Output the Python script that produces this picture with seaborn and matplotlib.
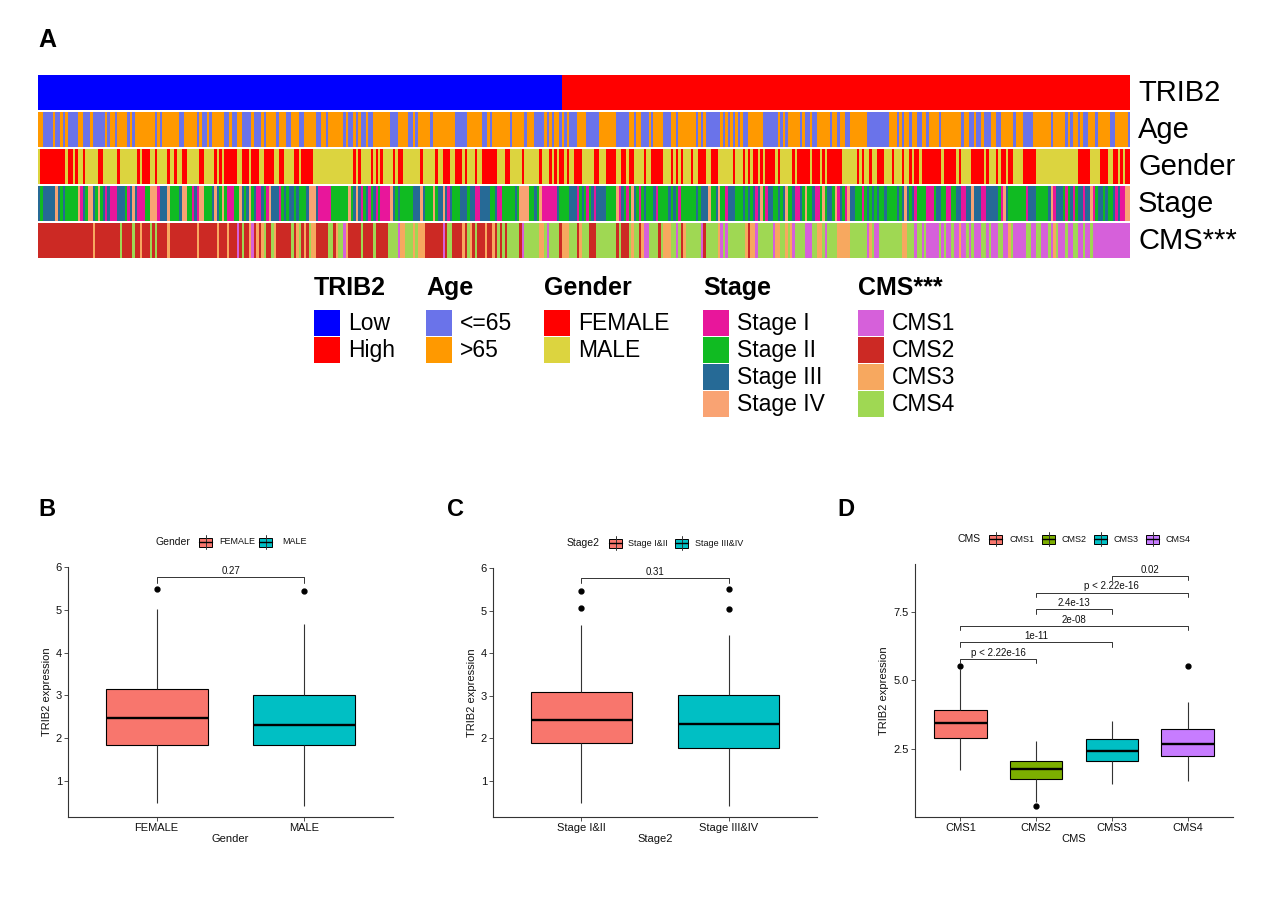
import numpy as np
import pandas as pd
import matplotlib
matplotlib.use("Agg")
import matplotlib.pyplot as plt
import seaborn as sns
from matplotlib.colors import ListedColormap
from matplotlib.patches import Rectangle
from matplotlib.lines import Line2D

# ---------------- data ----------------
N_SAMPLES = 440
TRIB2_RUNS = "L211 H229"
AGE_RUNS = " ".join([
    "O2 B4 O1 B2 O1 B1 O1 B4 O2 B3 O1 B5 O1 B1 O2 B1 O4 B1 O1 B1 O8 B1 O1 B1 O7 B2 O5 B1 O1 B2 O1 B1 O5 B2 O1 B2 O2 B4 O1 B3",
    "O1 B1 O4 B1 O3 B2 O3 B2 O5 B2 O2 B1 O6 B1 O1 B2 O1 B1 O1 B2 O1 B2 O7 B3 O4 B2 O1 B1 O5 B1 O9 B5 O6 B1",
    "B1 O1 B1 O7 B1 O5 B1 O3 B4 O1 B1 O1 B1 O2 B1 O1 B1 O1 B3 O4 B5 O7 B5 O2 B1 O2 B3 O1 B1 O4 B3 O2 B1 O7 B1 O1 B1 O1 B2",
    "B4 O1 B1 O1 B1 O1 B1 O1 B1 O1 B2 O6 B6 O1 B1 O1 B1 O5 B1 O1 B2 O1 B2 O5 B1 O2 B1 O2 B2 O7 B9 O3 B1 O1 B1 O2 B1 O2 B2 O2 B1 O3",
    "O1 B1 O8 B1 O2 B2 O1 B2 O1 B3 O2 B2 O5 B1 O3 B4 O7 B1 O5 B1 O1 B1 O2 B1 O1 B2 O3 B1 O5 B2 O5 B1",
])
GENDER_RUNS = " ".join([
    "M1 F10 M1 F2 M1 F1 M2 F1 M5 F2 M6 F1 M7 F1 M1 F3 M2 F1 M4 F1 M2 F1 M2 F2 M5 F2 M4 F1 M1 F1 M1 F5 M2 F3 M1 F3 M1",
    "M1 F4 M2 F2 M4 F2 M1 F5 M16 F1 M1 F1 M4 F1 M1 F1 M1 F1 M4 F1 M1 F2 M7 F1 M5 F1 M2 F3 M2 F3 M1 F1 M3 F1 M2 F1",
    "F5 M3 F2 M5 F1 M6 F1 M3 F1 M1 F1 M1 F2 M1 F1 M2 F3 M5 F2 M3 F4 M2 F2 M1 F2 M4 F1 M2 F5 M3 F1 M1 F1 M1 F1 M3 F1 M2 F3 M2",
    "F3 M6 F1 M3 F1 M1 F1 M1 F2 M1 F1 M1 F4 M1 F1 M5 F1 M1 F5 M1 F3 M1 F1 M1 F6 M6 F1 M1 F1 M2 F1 M2 F3 M3 F1 M3 F1 M2 F1 M1 F2 M1 F6",
    "F2 M1 F5 M1 F1 M4 F5 M1 F1 M3 F1 M1 F2 M1 F2 M4 F5 M17 F5 M4 F3 M2 F2 M1 F1 M1 F2",
])
STAGE_RUNS = " ".join([
    "T1 G1 T5 S1 T1 G1 T1 G5 S1 P1 T1 G1 S2 T1 G1 S1 G1 T1 P1 T1 P3 T3 G1 P1 T1 S1 T1 P3 G2 S3 P1 T3 S1 G4 T1 S2 G2 P1 T1 P1 S2 G3 T1 S1 T1 G1 S1 G1 P3 G2 S1 T1 G1 T1 S1 G1 T1 P2",
    "T1 G1 P1 S1 T3 P1 G1 T1 G1 T2 G1 T1 G3 T1 S3 T1 P5 G7 S1 G1 T1 S1 T1 P1 G1 T1 P1 G1 T1 P1 G1 P4 S1 T1 G1 T1 G5 T3 S1 T1 G3 S1 G1 T2 S1 T1 P1 T1 G3 T3 G1 T2 P2 T2",
    "T2 G2 T1 P2 G5 T1 G1 S4 G2 T1 G1 S1 P6 T1 G4 T3 P1 G1 T1 G1 P1 G1 T1 P1 T4 G4 S1 P1 T1 G1 P1 G1 S1 T1 G1 P1 G1 T1 G3 T1 P1 G4 T1 G1 T1 G1 P1 G6 T1 G1 T3",
    "S1 G2 T1 S1 G2 P1 T3 G3 T1 G1 T1 G1 T1 P1 T1 S1 G1 P1 T2 G2 T1 G1 T1 S1 G2 T1 P2 T1 G1 S1 G2 T1 P2 G1 S1 G1 T2 G1 S1 P1 T1 G1 P1 S1 T2 G3 P1 G1 T1 G1 T1 G1 T1 G2 T1 G4 T1 G1 T1 S1 T1 G1 T1 P1 G4 P3",
    "G1 T2 G2 P2 G2 T2 P2 T2 S1 T3 P2 T5 G1 P1 S1 T1 G7 P1 T3 G5 T1 S1 P1 T3 G1 P1 G1 T1 P1 G1 T2 P1 T2 S1 P1 G1 T2 G1 T1 G2 T1 P1 T1 P2 S1",
])
CMS_RUNS = " ".join([
    "B22 C1 B10 D1 B4 D1 B2 C1 B3 D1 B1 D1 B4 C1 B11 C1 B7 C1 B3 C1 B3 A1 B1 D1 B2 C1 A1 B1 C1 B1",
    "C1 D1 B2 D1 C1 B6 D1 B1 C1 D1 B1 C1 B1 D1 C2 B5 D2 B1 C1 D2 A1 C1 B5 D1 B4 D1 B5 D4 A1 C2 D3 C1 D1 C3 B7 A1 B1 D2 B4 C1 B1 D1 C1 B1 D1 B3",
    "C1 B2 C1 B1 D1 B1 D1 B1 D5 B1 A1 D6 C2 D1 A1 D4 B1 C3 D3 B1 C1 D3 B3 D8 B1 D1 B3 D1 C1 D2 B1 C1 A2 D4 B1 D1 C3 D2 A1 D1 B1 C1 D6 A1 B1 D2",
    "D3 C1 A1 D1 A1 D7 C1 B1 C2 A1 D6 A1 C2 D2 C1 D1 C1 A1 D4 A3 D2 C2 D1 A1 D4 C5 D7 A1 C1 D1 A2 D9 C2 D3 A1 D2 A1 D1 A4",
    "A1 D1 A1 D1 A2 D1 A2 C1 A2 D1 A1 D1 A3 D2 A1 D1 A3 D2 A2 C1 D1 A5 D2 A2 D2 A3 D1 A1 C1 D1 A3 D1 A2 D2 A2 D1 A2 D1 A15",
])

TRIB2_LEVELS = ["Low", "High"]
AGE_LEVELS = ["<=65", ">65"]
GENDER_LEVELS = ["FEMALE", "MALE"]
STAGE_LEVELS = ["Stage I", "Stage II", "Stage III", "Stage IV"]
CMS_LEVELS = ["CMS1", "CMS2", "CMS3", "CMS4"]

TRIB2_COLORS = ["#0000FF", "#FF0000"]
AGE_COLORS = ["#6A73EA", "#FF9900"]
GENDER_COLORS = ["#FF0000", "#DCD43F"]
STAGE_COLORS = ["#E8169B", "#10BB22", "#266A96", "#F9A373"]
CMS_COLORS = ["#D660DA", "#CC2924", "#F7A85F", "#9FD853"]

# boxplot summaries: (lower whisker, Q1, median, Q3, upper whisker)
GENDER_GROUPS = ["FEMALE", "MALE"]
GENDER_STATS = [(0.49, 1.85, 2.47, 3.15, 5.03), (0.42, 1.85, 2.30, 3.02, 4.66)]
GENDER_OUTLIERS = [[5.49], [5.44]]
GENDER_PVALS = [(0, 1, 5.76, "0.27")]

STAGE2_GROUPS = ["Stage I&II", "Stage III&IV"]
STAGE2_STATS = [(0.49, 1.90, 2.43, 3.10, 4.67), (0.42, 1.77, 2.34, 3.03, 4.43)]
STAGE2_OUTLIERS = [[5.05, 5.45], [5.03, 5.51]]
STAGE2_PVALS = [(0, 1, 5.765, "0.31")]

CMS_GROUPS = ["CMS1", "CMS2", "CMS3", "CMS4"]
CMS_STATS = [(1.71, 2.88, 3.43, 3.92, 5.40), (0.55, 1.40, 1.74, 2.04, 2.77),
             (1.22, 2.04, 2.43, 2.84, 3.52), (1.30, 2.24, 2.65, 3.21, 4.20)]
CMS_OUTLIERS = [[5.50], [0.40], [], [5.51]]
CMS_PVALS = [(0, 1, 5.78, "p < 2.22e-16"), (0, 2, 6.39, "1e-11"), (0, 3, 6.99, "2e-08"),
             (1, 2, 7.59, "2.4e-13"), (1, 3, 8.20, "p < 2.22e-16"), (2, 3, 8.82, "0.02")]

BOX_PALETTE_2 = ["#F8766D", "#00BFC4"]
BOX_PALETTE_4 = ["#F8766D", "#7CAE00", "#00BFC4", "#C77CFF"]

# ---------------- helpers ----------------
sns.set_theme(style="ticks")
plt.rcParams["font.family"] = ["Liberation Sans", "DejaVu Sans"]
plt.rcParams["text.color"] = "black"

W, H = 1268, 916
fig = plt.figure(figsize=(W / 100, H / 100), dpi=100)


def add_ax(x0, y0, x1, y1):
    return fig.add_axes([x0 / W, 1 - y1 / H, (x1 - x0) / W, (y1 - y0) / H])


def ftext(x, y, s, **kw):
    return fig.text(x / W, 1 - y / H, s, **kw)


def decode(runs, letters, n):
    out = []
    for tok in runs.split():
        out += [letters.index(tok[0])] * int(tok[1:])
    out = out[:n] + [out[-1]] * max(0, n - len(out))
    return np.array(out)


def summary_values(stats, outliers):
    lo, q1, med, q3, hi = stats
    out_lo = sorted(v for v in outliers if v < med)
    out_hi = sorted(v for v in outliers if v > med)
    k = 1 + max(len(out_lo), len(out_hi))
    low = out_lo + [lo] + [q1] * (k - 1 - len(out_lo))
    high = [q3] * (k - 1 - len(out_hi)) + [hi] + out_hi
    return low + [q1] + [med] * (k - 1) + [med] + [med] * (k - 1) + [q3] + high


def long_frame(groups, stats, outliers):
    rows = []
    for g, s, o in zip(groups, stats, outliers):
        for v in summary_values(s, o):
            rows.append((g, v))
    return pd.DataFrame(rows, columns=["grp", "val"])


# ---------------- panel A: annotation heatmap ----------------
ftext(38, 40, "A", fontsize=18, fontweight="bold", va="center", ha="left")

rows = [
    ("TRIB2", decode(TRIB2_RUNS, "LH", N_SAMPLES), TRIB2_COLORS),
    ("Age", decode(AGE_RUNS, "BO", N_SAMPLES), AGE_COLORS),
    ("Gender", decode(GENDER_RUNS, "FM", N_SAMPLES), GENDER_COLORS),
    ("Stage", decode(STAGE_RUNS, "PGTS", N_SAMPLES), STAGE_COLORS),
    ("CMS***", decode(CMS_RUNS, "ABCD", N_SAMPLES), CMS_COLORS),
]
row_tops = [75, 112, 149, 186, 223]
for (name, codes, cols), top in zip(rows, row_tops):
    ax = add_ax(38, top, 1130, top + 35)
    sns.heatmap(codes.reshape(1, -1), cmap=ListedColormap(cols), vmin=-0.5,
                vmax=len(cols) - 0.5, cbar=False, xticklabels=False,
                yticklabels=False, ax=ax)
    ax.set_xlabel("")
    ax.set_ylabel("")
    ftext(1138, top + 18, name, fontsize=21, va="center", ha="left")

legend_groups = [
    ("TRIB2", 314, TRIB2_LEVELS, TRIB2_COLORS),
    ("Age", 426, AGE_LEVELS, AGE_COLORS),
    ("Gender", 544, GENDER_LEVELS, GENDER_COLORS),
    ("Stage", 703, STAGE_LEVELS, STAGE_COLORS),
    ("CMS***", 858, CMS_LEVELS, CMS_COLORS),
]
for title, x, labels, cols in legend_groups:
    ftext(x, 288, title, fontsize=18, fontweight="bold", va="center", ha="left")
    for i, (lab, c) in enumerate(zip(labels, cols)):
        top = 310 + 27 * i
        fig.add_artist(Rectangle((x / W, 1 - (top + 26) / H), 26 / W, 26 / H,
                                 transform=fig.transFigure, facecolor=c,
                                 edgecolor="none"))
        ftext(x + 34, top + 13.5, lab, fontsize=16.5, va="center", ha="left")


# ---------------- panels B-D: boxplots ----------------
def key_glyph(x, yc, color):
    fig.add_artist(Line2D([(x + 6.5) / W] * 2, [1 - (yc - 7) / H, 1 - (yc + 7) / H],
                          transform=fig.transFigure, color="#333333", lw=0.7))
    fig.add_artist(Rectangle((x / W, 1 - (yc + 4.5) / H), 13 / W, 9 / H,
                             transform=fig.transFigure, facecolor=color,
                             edgecolor="black", lw=0.7))
    fig.add_artist(Line2D([x / W, (x + 13) / W], [1 - yc / H] * 2,
                          transform=fig.transFigure, color="black", lw=1.0))


def box_legend(title, title_x, items, yc):
    ftext(title_x, yc, title, fontsize=7.5, va="center", ha="left", color="#111111")
    for kx, lx, lab, col in items:
        key_glyph(kx, yc, col)
        ftext(lx, yc, lab, fontsize=6.5, va="center", ha="left", color="#111111")


def box_panel(rect, groups, stats, outliers, palette, ylim, yticks, yticklabels,
              xlabel, pvals, drop):
    ax = add_ax(*rect)
    df = long_frame(groups, stats, outliers)
    sns.boxplot(data=df, x="grp", y="val", hue="grp", order=groups,
                hue_order=groups, palette=palette, saturation=1, width=0.69,
                linewidth=0.8, linecolor="black", showcaps=False, fliersize=3.5,
                legend=False,
                flierprops=dict(marker="o", markerfacecolor="black",
                                markeredgecolor="black"),
                medianprops=dict(linewidth=1.7, color="black"),
                whiskerprops=dict(color="#333333", linewidth=0.8),
                ax=ax)
    ax.set_xlim(-0.6, len(groups) - 0.4)
    ax.set_ylim(*ylim)
    ax.set_yticks(yticks)
    ax.set_yticklabels(yticklabels)
    sns.despine(ax=ax)
    for sp in ("left", "bottom"):
        ax.spines[sp].set_color("#333333")
        ax.spines[sp].set_linewidth(0.8)
    ax.tick_params(axis="both", direction="out", length=2.8, width=0.6,
                   colors="#333333", labelsize=8, labelcolor="#111111", pad=1.5)
    ax.set_xlabel(xlabel, fontsize=8, color="#111111", labelpad=1)
    ax.set_ylabel("TRIB2 expression", fontsize=8, color="#111111", labelpad=3)
    for i1, i2, y, lab in pvals:
        ax.plot([i1, i1, i2, i2], [y - drop, y, y, y - drop], color="#333333", lw=0.7)
        ax.annotate(lab, xy=((i1 + i2) / 2, y), xytext=(0, 0.8),
                    textcoords="offset points", ha="center", va="bottom",
                    fontsize=7, color="#111111")
    return ax


ftext(38, 510, "B", fontsize=17, fontweight="bold", va="center", ha="left")
box_panel((68, 567, 393, 817), GENDER_GROUPS, GENDER_STATS, GENDER_OUTLIERS,
          BOX_PALETTE_2, (0.159, 6.0), [1, 2, 3, 4, 5, 6],
          ["1", "2", "3", "4", "5", "6"], "Gender", GENDER_PVALS, 0.125)
box_legend("Gender", 156, [(199, 219, "FEMALE", BOX_PALETTE_2[0]),
                           (259, 282, "MALE", BOX_PALETTE_2[1])], 542)

ftext(447, 510, "C", fontsize=17, fontweight="bold", va="center", ha="left")
box_panel((493, 568, 817, 817), STAGE2_GROUPS, STAGE2_STATS, STAGE2_OUTLIERS,
          BOX_PALETTE_2, (0.157, 6.0), [1, 2, 3, 4, 5, 6],
          ["1", "2", "3", "4", "5", "6"], "Stage2", STAGE2_PVALS, 0.125)
box_legend("Stage2", 567, [(609, 628, "Stage I&II", BOX_PALETTE_2[0]),
                           (675, 695, "Stage III&IV", BOX_PALETTE_2[1])], 543)

ftext(837, 510, "D", fontsize=17, fontweight="bold", va="center", ha="left")
box_panel((915, 564, 1233, 817), CMS_GROUPS, CMS_STATS, CMS_OUTLIERS,
          BOX_PALETTE_4, (0.0, 9.245), [2.5, 5.0, 7.5], ["2.5", "5.0", "7.5"],
          "CMS", CMS_PVALS, 0.17)
box_legend("CMS", 958, [(989, 1009, "CMS1", BOX_PALETTE_4[0]),
                        (1042, 1061, "CMS2", BOX_PALETTE_4[1]),
                        (1094, 1113, "CMS3", BOX_PALETTE_4[2]),
                        (1146, 1165, "CMS4", BOX_PALETTE_4[3])], 539)

fig.savefig("out.png", dpi=100, facecolor="white")
